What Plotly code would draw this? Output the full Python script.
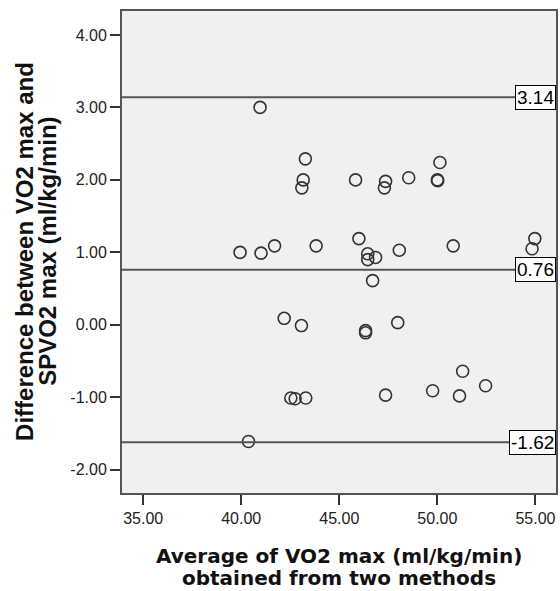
import plotly.graph_objects as go

# Data
avg_vo2 = [40.96, 43.27, 43.16, 43.09, 45.83, 47.36, 47.30, 39.94, 41.01, 41.70,
           43.82, 46.00, 46.45, 46.45, 46.85, 46.70, 50.13, 48.54, 50.00, 50.02,
           48.06, 50.81, 54.97, 54.83, 42.19, 43.07, 46.34, 46.34, 42.53, 42.75,
           43.29, 47.36, 40.37, 47.98, 49.76, 51.29, 51.13, 52.46]
diff_vo2 = [3.00, 2.29, 2.00, 1.89, 2.00, 1.98, 1.89, 1.00, 0.99, 1.09,
            1.09, 1.19, 0.98, 0.90, 0.93, 0.61, 2.24, 2.03, 2.00, 1.99,
            1.03, 1.09, 1.19, 1.05, 0.09, -0.01, -0.08, -0.11, -1.01, -1.02,
            -1.01, -0.97, -1.61, 0.03, -0.91, -0.64, -0.98, -0.84]
ref_values = [3.14, 0.76, -1.62]
ref_labels = ["3.14", "0.76", "-1.62"]
x_ticks = [35, 40, 45, 50, 55]
y_ticks = [-2, -1, 0, 1, 2, 3, 4]

fig = go.Figure()
fig.add_trace(go.Scatter(
    x=avg_vo2, y=diff_vo2, mode="markers",
    marker=dict(symbol="circle-open", size=12, color="#333333",
                line=dict(width=1.6, color="#333333")),
    showlegend=False, hoverinfo="skip"))

for v, lab in zip(ref_values, ref_labels):
    fig.add_shape(type="line", xref="paper", yref="y", x0=0, x1=1, y0=v, y1=v,
                  line=dict(color="#555555", width=2))
    fig.add_annotation(xref="paper", yref="y", x=1, y=v, text=lab,
                       xanchor="right", yanchor="middle", showarrow=False,
                       bgcolor="white", bordercolor="black", borderwidth=1,
                       borderpad=1,
                       font=dict(family="Liberation Sans", size=19, color="black"))

axis_common = dict(showgrid=False, zeroline=False, showline=True, linecolor="#555555",
                   linewidth=2, mirror=True, ticks="outside", ticklen=10,
                   tickwidth=2, tickcolor="#333333",
                   tickfont=dict(family="Liberation Sans", size=16, color="#222222"))

fig.update_layout(
    width=560, height=591,
    margin=dict(l=122, r=2, t=11, b=98),
    paper_bgcolor="white", plot_bgcolor="#f0f0f0",
    xaxis=dict(range=[33.92, 56.05], tickvals=x_ticks,
               ticktext=[f"{t:.2f}" for t in x_ticks], **axis_common),
    yaxis=dict(range=[-2.32, 4.33], tickvals=y_ticks,
               ticktext=[f"{t:.2f}" for t in y_ticks], **axis_common),
)

# Axis titles
xt_font = dict(family="DejaVu Sans", size=20, color="#111111")
fig.add_annotation(xref="paper", yref="paper", x=0.5, y=-0.1307,
                   text="<b>Average of VO2 max (ml/kg/min)</b>", showarrow=False,
                   xanchor="center", yanchor="middle", font=xt_font)
fig.add_annotation(xref="paper", yref="paper", x=0.5, y=-0.1763,
                   text="<b>obtained from two methods</b>", showarrow=False,
                   xanchor="center", yanchor="middle", font=xt_font)

yt_font = dict(family="Liberation Sans", size=24, color="#111111")
fig.add_annotation(xref="paper", yref="paper", x=-0.2248, y=0.501,
                   text="<b>Difference between VO2 max and</b>", showarrow=False,
                   textangle=-90, xanchor="center", yanchor="middle", font=yt_font)
fig.add_annotation(xref="paper", yref="paper", x=-0.172, y=0.501,
                   text="<b>SPVO2 max (ml/kg/min)</b>", showarrow=False,
                   textangle=-90, xanchor="center", yanchor="middle", font=yt_font)

fig.write_html("out.html", config={"displayModeBar": False},
               post_script="document.body.style.margin='0';document.body.style.overflow='hidden';")
